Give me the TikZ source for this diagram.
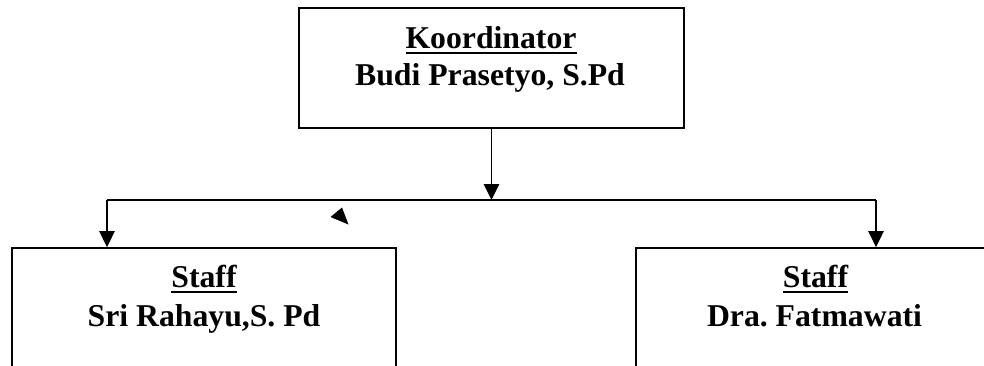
\documentclass[tikz,border=0pt]{standalone}
\usepackage{fontspec}
\setmainfont{Liberation Serif}
\usetikzlibrary{arrows.meta}
\frenchspacing
% underline drawn as a thick rule just below the baseline
\newcommand\titleline[1]{\setbox0\hbox{#1}\rlap{\rule[-4.3pt]{\wd0}{1.5pt}}\box0}
\begin{document}
\begin{tikzpicture}[x=0.75pt, y=-0.75pt,
  box/.style={draw, line width=1.3pt, rectangle, inner sep=0pt},
  label/.style={anchor=base, inner sep=0pt, font=\fontsize{23.8}{28}\selectfont\bfseries},
  link/.style={line width=1.3pt},
  arr/.style={link, -{Triangle[length=12pt, width=11.5pt]}}]
  \useasboundingbox (0,0) rectangle (984,365);

  % boxes
  \node[box, minimum width=288.75pt, minimum height=90pt] (koord) at (491.5,68) {};
  \node[box, minimum width=288pt, minimum height=114pt] (sri) at (204,324) {};
  \node[box, minimum width=288pt, minimum height=114pt] (fat) at (828,324) {};

  % texts
  \node[label] (koordT) at (491,48) {\titleline{Koordinator}};
  \node[label] (koordN) at (490,85) {Budi Prasetyo, S.Pd};
  \node[label] (sriT) at (204,287) {\titleline{Staff}};
  \node[label] (sriN) at (204,326) {Sri Rahayu,S. Pd};
  \node[label] (fatT) at (815.5,287) {\titleline{Staff}};
  \node[label] (fatN) at (814.5,326) {Dra. Fatmawati};

  % connectors
  \coordinate (junc) at (491.5,200);
  \coordinate (lj) at (107,200);
  \coordinate (rj) at (876,200);
  \draw[arr] (koord.south) -- (junc);
  \draw[link] (lj) -- (rj);
  \draw[arr] (lj) -- (lj |- sri.north);
  \draw[arr] (rj) -- (rj |- fat.north);

  % loose arrowhead
  \fill (342,207.5) -- (330.5,217) -- (348.5,224.5) -- cycle;
\end{tikzpicture}
\end{document}
